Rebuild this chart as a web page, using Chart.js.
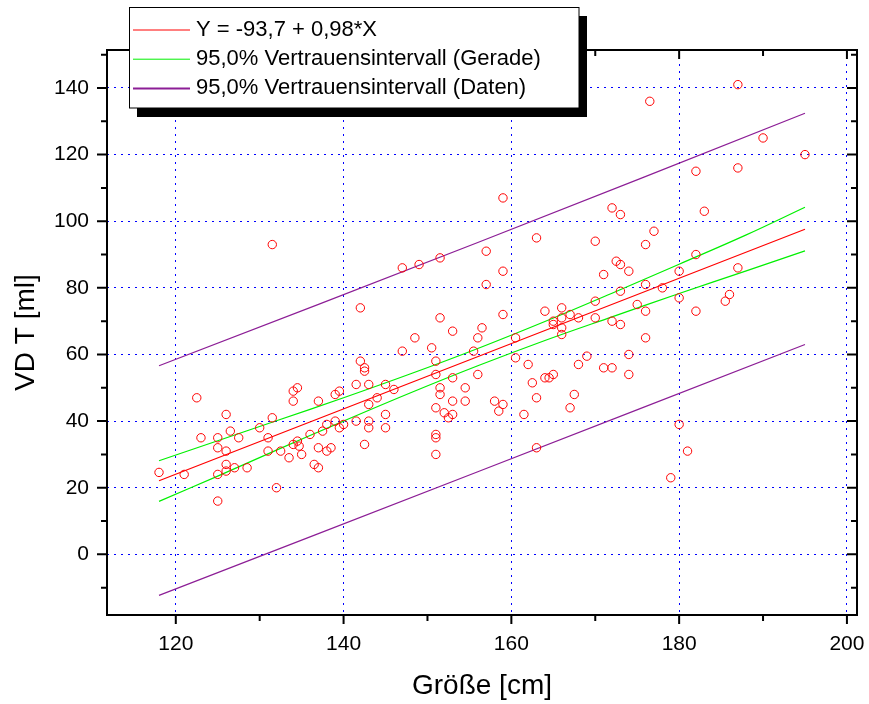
<!DOCTYPE html>
<html>
<head>
<meta charset="utf-8">
<script src="https://cdn.jsdelivr.net/npm/chart.js@4.4.0/dist/chart.umd.min.js"></script>
<style>
  html, body { margin: 0; padding: 0; background: #fff; }
</style>
</head>
<body>
<canvas id="chart" width="869" height="704"></canvas>
<script>
// measured points: Groesse [cm] / VD T [ml]
const groesse = [
  118, 121, 122.5, 123, 125, 125, 125, 125, 126, 126, 126, 126, 126.5, 127, 127.5, 128.5,
  130, 131, 131, 131.5, 131.5, 132, 132.5, 133.5, 134, 134.5, 134, 134, 134.5, 134.7, 135,
  136, 136.5, 137, 137, 137, 137.5, 138, 138, 138.5, 139, 139, 139.5, 139.5, 140,
  141.5, 141.5, 142, 142, 142.5, 142.5, 142.5, 143, 143, 143, 143, 144, 145, 145, 145, 146,
  147, 147, 148.5, 149, 150.5, 151, 151, 151, 151, 151, 151, 151.5, 151.5, 151.5, 151.5,
  152, 152.5, 153, 153, 153, 153, 154.5, 154.5, 155.5, 156, 156, 156.5, 157, 157, 158, 158.5,
  159, 159, 159, 159, 160.5, 160.5, 161.5, 162, 162.5, 163, 163, 163, 164, 164.5, 165,
  164, 165, 165, 166, 166, 166, 166, 167, 168, 168, 167.5, 167,
  187, 176.5, 190, 195, 182, 187, 172, 173, 183, 170, 176, 177, 182, 172.5, 173, 174, 171,
  180, 176, 178, 187, 173, 180, 170, 175, 176, 182, 185.5, 186, 170, 172, 173, 176, 169,
  174, 171, 172, 174, 180, 181, 179
];
const vdT = [
  24.6, 24, 47, 35, 35, 32, 24, 16, 42, 31, 27, 25, 37, 26, 35, 26,
  38, 35, 31, 41, 93, 20, 31, 29, 49, 50, 46, 33, 34, 32.5, 30,
  36, 27, 26, 46, 32, 37, 39, 31, 32, 40, 48, 49, 38, 39,
  40, 51, 74, 58, 56, 55, 33, 51, 45, 40, 38, 47, 51, 42, 38, 49.5,
  86, 61, 65, 87, 62, 58, 54, 44, 36, 35, 30, 89, 71, 50, 48,
  42.5, 41, 67, 53, 46, 42, 50, 46, 61, 65, 54, 68, 91, 81, 46, 43,
  45, 85, 72, 107, 65, 59, 42, 57, 51.5, 47, 32, 95, 53, 53, 54,
  73, 70, 69, 74, 71, 68, 66, 72, 71, 57, 48, 44,
  141, 136, 125, 120, 115, 116, 104, 102, 103, 94, 93, 97, 90, 88, 87, 85, 84,
  85, 81, 80, 86, 79, 77, 76, 75, 73, 73, 76, 78, 71, 70, 69, 65, 59.5,
  60, 56, 56, 54, 39, 31, 23
];

// regression line and bands
const fitX = [118, 195];
const fitY = [22.1, 97.6];
const bandX = [118, 125, 132, 140, 148, 156, 164, 172, 180, 188, 195];
const geradeOben = [28.1, 34.1, 40.1, 47.0, 54.2, 61.8, 69.9, 78.4, 87.1, 95.9, 104.2];
const geradeUnten = [15.9, 23.5, 31.3, 40.0, 48.5, 56.6, 64.2, 71.3, 78.3, 85.1, 91.1];
const datenX = [118, 156, 195];
const datenOben = [56.6, 93.6, 132.4];
const datenUnten = [-12.3, 24.8, 63.0];

// axes
const xTicks = [120, 140, 160, 180, 200];
const xMinor = [130, 150, 170, 190];
const yTicks = [0, 20, 40, 60, 80, 100, 120, 140];
const yMinor = [-10, 10, 30, 50, 70, 90, 110, 130, 150];

const FONT = "'Liberation Sans', Arial, sans-serif";
const PURPLE = 'rgb(140, 30, 150)';
const GREEN = '#00f000';

function pts(xs, ys) {
  return xs.map((x, i) => ({ x: x, y: ys[i] }));
}

// frame + major/minor ticks on all four sides
const frame = {
  id: 'frame',
  afterDraw(chart) {
    const ctx = chart.ctx;
    const a = chart.chartArea;
    const xs = chart.scales.x, ys = chart.scales.y;
    ctx.save();
    ctx.strokeStyle = '#000';
    ctx.lineWidth = 2;
    ctx.beginPath();
    xTicks.concat(xMinor).forEach(v => {
      const len = xTicks.includes(v) ? 9 : 6;
      const p = xs.getPixelForValue(v);
      ctx.moveTo(p, a.bottom); ctx.lineTo(p, a.bottom + len);
      ctx.moveTo(p, a.top); ctx.lineTo(p, a.top + len);
    });
    yTicks.concat(yMinor).forEach(v => {
      const len = yTicks.includes(v) ? 10 : 6;
      const p = ys.getPixelForValue(v);
      ctx.moveTo(a.left, p); ctx.lineTo(a.left - len, p);
      ctx.moveTo(a.right, p); ctx.lineTo(a.right - len, p);
    });
    ctx.stroke();
    ctx.strokeRect(a.left, a.top, a.right - a.left, a.bottom - a.top);
    ctx.restore();
  }
};

// legend box with drop shadow
const legendBox = {
  id: 'legendBox',
  afterDraw(chart) {
    const ctx = chart.ctx;
    ctx.save();
    ctx.fillStyle = '#000';
    ctx.fillRect(137, 16, 450, 101);
    ctx.fillStyle = '#fff';
    ctx.fillRect(129.5, 7.5, 449.5, 100.5);
    ctx.strokeStyle = '#000';
    ctx.lineWidth = 1;
    ctx.strokeRect(129.5, 7.5, 449.5, 100.5);
    ctx.font = '22px ' + FONT;
    ctx.textBaseline = 'middle';
    ctx.fillStyle = '#000';
    let y = 30;
    chart.data.datasets.filter(d => d.inLegend).forEach(d => {
      ctx.strokeStyle = d.borderColor;
      ctx.lineWidth = d.legendWidth || 1;
      ctx.beginPath();
      ctx.moveTo(133, y); ctx.lineTo(190, y);
      ctx.stroke();
      ctx.fillText(d.label, 196, y);
      y += 29.2;
    });
    ctx.restore();
  }
};

function lineSet(label, xs, ys, color, inLegend) {
  return {
    type: 'line',
    label: label,
    data: pts(xs, ys),
    borderColor: color,
    borderWidth: 1.2,
    pointRadius: 0,
    tension: 0.4,
    fill: false,
    inLegend: inLegend
  };
}

function noEdgePadding(s) {
  s.paddingLeft = 0;
  s.paddingRight = 0;
  s.paddingTop = 0;
  s.paddingBottom = 0;
}

new Chart(document.getElementById('chart'), {
  type: 'scatter',
  data: {
    datasets: [
      {
        label: 'Messwerte',
        data: pts(groesse, vdT),
        pointStyle: 'circle',
        pointRadius: 4.2,
        pointHoverRadius: 4.2,
        borderColor: '#ff0000',
        backgroundColor: 'rgba(0,0,0,0)',
        borderWidth: 1
      },
      lineSet('Y = -93,7 + 0,98*X', fitX, fitY, '#ff0000', true),
      lineSet('95,0% Vertrauensintervall (Gerade)', bandX, geradeOben, GREEN, true),
      lineSet('95,0% Vertrauensintervall (Gerade)', bandX, geradeUnten, GREEN, false),
      Object.assign(lineSet('95,0% Vertrauensintervall (Daten)', datenX, datenOben, PURPLE, true), { legendWidth: 2 }),
      lineSet('95,0% Vertrauensintervall (Daten)', datenX, datenUnten, PURPLE, false)
    ]
  },
  options: {
    responsive: false,
    animation: false,
    layout: { padding: { left: 0, right: 12, top: 50, bottom: 0 } },
    plugins: {
      legend: { display: false },
      tooltip: { enabled: false }
    },
    scales: {
      x: {
        type: 'linear',
        position: 'bottom',
        min: 111.8,
        max: 201.2,
        afterBuildTicks: s => { s.ticks = xTicks.map(v => ({ value: v })); },
        afterFit: s => { s.height = 89; noEdgePadding(s); },
        grid: { color: '#0000ff', lineWidth: 1, drawTicks: false },
        border: { display: false, dash: [2, 5] },
        ticks: {
          autoSkip: false,
          maxRotation: 0,
          padding: 17,
          color: '#000',
          font: { family: FONT, size: 21 }
        },
        title: {
          display: true,
          text: 'Größe [cm]',
          color: '#000',
          font: { family: FONT, size: 28 },
          padding: { top: 0, bottom: 1 }
        }
      },
      y: {
        type: 'linear',
        min: -18.2,
        max: 151.4,
        afterBuildTicks: s => { s.ticks = yTicks.map(v => ({ value: v })); },
        afterFit: s => { s.width = 107; noEdgePadding(s); },
        grid: { color: '#0000ff', lineWidth: 1, drawTicks: false },
        border: { display: false, dash: [2, 5] },
        ticks: {
          autoSkip: false,
          padding: 18,
          color: '#000',
          font: { family: FONT, size: 21 }
        },
        title: {
          display: true,
          text: 'VD T [ml]',
          color: '#000',
          font: { family: FONT, size: 28 },
          padding: { top: 9, bottom: 0 }
        }
      }
    }
  },
  plugins: [frame, legendBox]
});
</script>
</body>
</html>
